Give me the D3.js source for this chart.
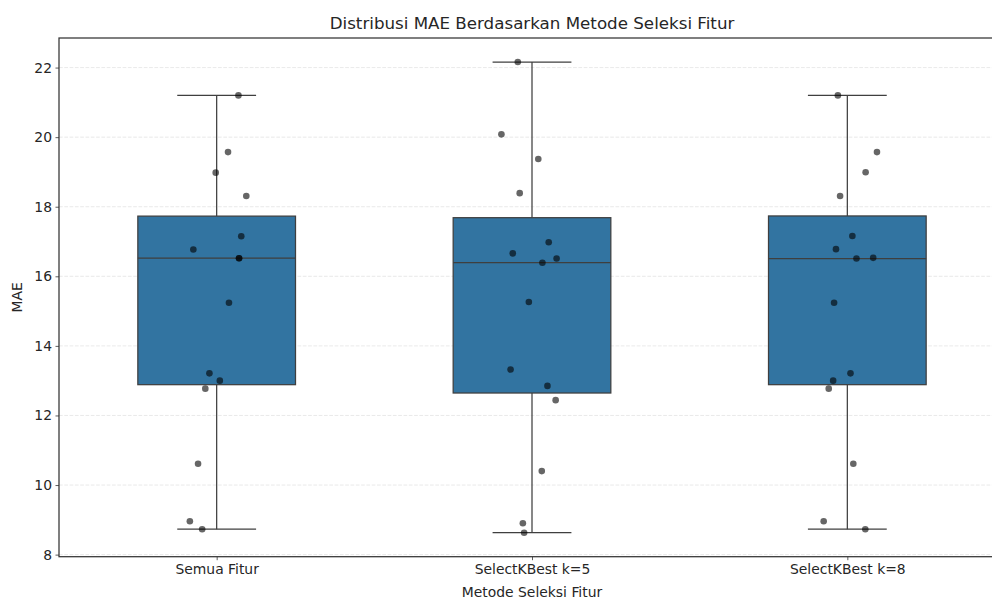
<!DOCTYPE html>
<html>
<head>
<meta charset="utf-8">
<script src="https://cdn.jsdelivr.net/npm/d3@7"></script>
<style>
  body { margin: 0; background: #fff; }
  svg { font-family: "DejaVu Sans", sans-serif; }
</style>
</head>
<body>
<svg id="chart" width="992" height="599"></svg>
<script>
// categories and values
var categories = ["Semua Fitur", "SelectKBest k=5", "SelectKBest k=8"];

var maeSemua = [21.20, 19.57, 18.98, 18.31, 17.15, 16.77, 16.52, 16.52, 15.24, 13.21, 13.00, 12.77, 10.61, 8.96, 8.73];
var maeK5    = [22.16, 20.08, 19.37, 18.39, 16.98, 16.66, 16.51, 16.39, 15.26, 13.32, 12.85, 12.44, 10.40, 8.90, 8.63];
var maeK8    = [21.20, 19.57, 18.99, 18.31, 17.16, 16.78, 16.51, 16.53, 15.24, 13.21, 13.00, 12.77, 10.61, 8.96, 8.73];

// stripplot jitter (category units)
var jitterSemua = [0.069, 0.036, -0.003, 0.094, 0.078, -0.074, 0.071, 0.071, 0.039, -0.023, 0.010, -0.036, -0.059, -0.085, -0.046];
var jitterK5    = [-0.045, -0.097, 0.020, -0.039, 0.053, -0.061, 0.078, 0.033, -0.010, -0.068, 0.049, 0.075, 0.031, -0.029, -0.025];
var jitterK8    = [-0.030, 0.094, 0.058, -0.023, 0.016, -0.036, 0.029, 0.082, -0.042, 0.010, -0.045, -0.059, 0.019, -0.075, 0.057];

var yTicks = [8, 10, 12, 14, 16, 18, 20, 22];

var groups = [
  { name: categories[0], values: maeSemua, jitter: jitterSemua },
  { name: categories[1], values: maeK5, jitter: jitterK5 },
  { name: categories[2], values: maeK8, jitter: jitterK8 }
];

var svg = d3.select("#chart");
var mLeft = 59, mRight = 1005, mTop = 38, mBottom = 556.7;

// category positions as in matplotlib: -0.5 .. n-0.5
var x = d3.scaleLinear().domain([-0.5, categories.length - 0.5]).range([mLeft, mRight]);
var y = d3.scaleLinear().domain([7.94, 22.85]).range([mBottom, mTop]);

// grid
svg.append("g").selectAll("line")
  .data(yTicks)
  .join("line")
  .attr("x1", mLeft).attr("x2", mRight)
  .attr("y1", function(d){ return y(d); }).attr("y2", function(d){ return y(d); })
  .attr("stroke", "#b0b0b0").attr("stroke-opacity", 0.35)
  .attr("stroke-dasharray", "3.7,1.6").attr("stroke-width", 0.8);

var boxColor = "#3274a1", edge = "#3f3f3f";

groups.forEach(function(g, i) {
  var s = g.values.slice().sort(d3.ascending);
  var q1 = d3.quantile(s, 0.25), med = d3.quantile(s, 0.5), q3 = d3.quantile(s, 0.75);
  var iqr = q3 - q1;
  var lo = d3.min(s.filter(function(v){ return v >= q1 - 1.5 * iqr; }));
  var hi = d3.max(s.filter(function(v){ return v <= q3 + 1.5 * iqr; }));
  var gg = svg.append("g");
  var cx = x(i);
  var half = (x(0.25) - x(0));
  var cap = (x(0.125) - x(0));

  gg.append("line").attr("x1", cx).attr("x2", cx).attr("y1", y(q3)).attr("y2", y(hi))
    .attr("stroke", edge).attr("stroke-width", 1.25);
  gg.append("line").attr("x1", cx).attr("x2", cx).attr("y1", y(q1)).attr("y2", y(lo))
    .attr("stroke", edge).attr("stroke-width", 1.25);
  gg.append("line").attr("x1", cx - cap).attr("x2", cx + cap).attr("y1", y(hi)).attr("y2", y(hi))
    .attr("stroke", edge).attr("stroke-width", 1.25);
  gg.append("line").attr("x1", cx - cap).attr("x2", cx + cap).attr("y1", y(lo)).attr("y2", y(lo))
    .attr("stroke", edge).attr("stroke-width", 1.25);
  gg.append("rect")
    .attr("x", cx - half).attr("width", 2 * half)
    .attr("y", y(q3)).attr("height", y(q1) - y(q3))
    .attr("fill", boxColor).attr("stroke", edge).attr("stroke-width", 1.25);
  gg.append("line").attr("x1", cx - half).attr("x2", cx + half).attr("y1", y(med)).attr("y2", y(med))
    .attr("stroke", edge).attr("stroke-width", 1.25);
});

// strip points
groups.forEach(function(g, i) {
  svg.append("g").selectAll("circle")
    .data(g.values)
    .join("circle")
    .attr("cx", function(d, j){ return x(i + g.jitter[j]); })
    .attr("cy", function(d){ return y(d); })
    .attr("r", 3.3)
    .attr("fill", "#000").attr("fill-opacity", 0.6);
});

// axes
var yAxis = d3.axisLeft(y).tickValues(yTicks).tickSize(3.5).tickPadding(3.5).tickFormat(d3.format("d"));
var gy = svg.append("g").attr("transform", "translate(" + mLeft + ",0)").call(yAxis);
var xAxis = d3.axisBottom(x).tickValues(d3.range(categories.length)).tickSize(3.5).tickPadding(3.5)
  .tickFormat(function(d){ return categories[d]; });
var gx = svg.append("g").attr("transform", "translate(0," + mBottom + ")").call(xAxis);
[gx, gy].forEach(function(a) {
  a.attr("font-family", "DejaVu Sans").attr("font-size", 13.9);
  a.select(".domain").remove();
  a.selectAll(".tick line").attr("stroke", "#333").attr("stroke-width", 0.8);
  a.selectAll(".tick text").attr("fill", "#262626");
});

// spines
svg.append("rect").attr("x", mLeft).attr("y", mTop).attr("width", mRight - mLeft).attr("height", mBottom - mTop)
  .attr("fill", "none").attr("stroke", "#333").attr("stroke-width", 1.25);

svg.append("text").attr("x", (mLeft + mRight) / 2).attr("y", 29)
  .attr("text-anchor", "middle").attr("font-size", 16.7).attr("fill", "#262626")
  .text("Distribusi MAE Berdasarkan Metode Seleksi Fitur");
svg.append("text").attr("x", (mLeft + mRight) / 2).attr("y", 597)
  .attr("text-anchor", "middle").attr("font-size", 13.9).attr("fill", "#262626")
  .text("Metode Seleksi Fitur");
svg.append("text").attr("transform", "translate(22," + ((mTop + mBottom) / 2) + ") rotate(-90)")
  .attr("text-anchor", "middle").attr("font-size", 13.9).attr("fill", "#262626")
  .text("MAE");
</script>
</body>
</html>
